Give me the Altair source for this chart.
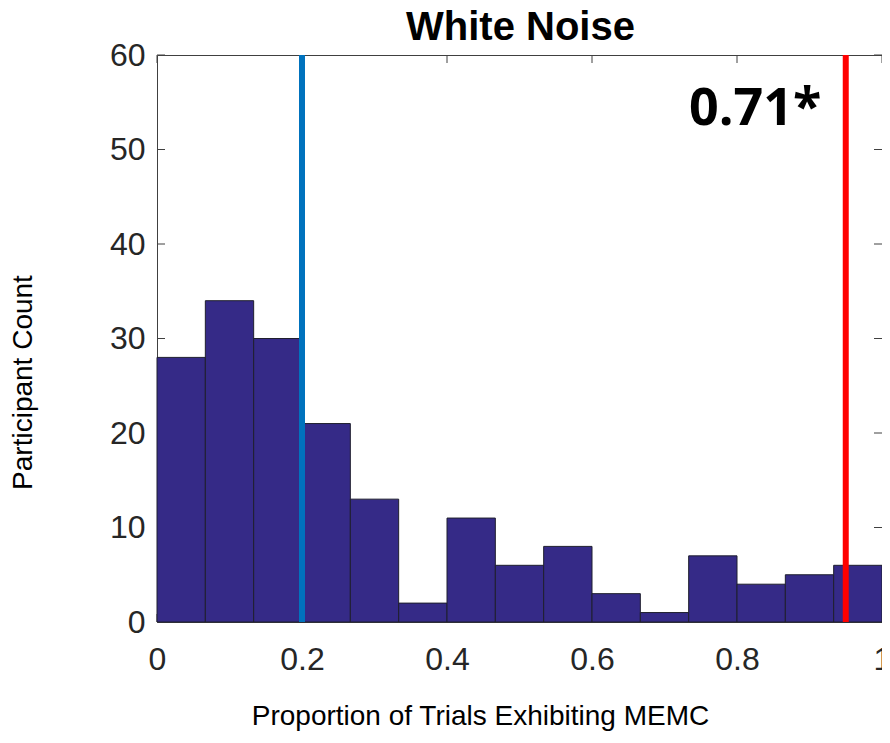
import altair as alt
import pandas as pd

# Histogram data (15 equal bins on [0, 1])
bin_starts = [i / 15 for i in range(15)]
bin_ends = [(i + 1) / 15 for i in range(15)]
counts = [28, 34, 30, 21, 13, 2, 11, 6, 8, 3, 1, 7, 4, 5, 6]

x_ticks = [0, 0.2, 0.4, 0.6, 0.8, 1.0]
y_ticks = [0, 10, 20, 30, 40, 50, 60]

chance_line = [0.2]
observed_line = [0.95]
annotation_text = ["0.71*"]
annotation_x = [0.825]
annotation_y = [52.6]
title_text = ["White Noise"]

W, H = 725, 567
FONT = "Liberation Sans"

bars_df = pd.DataFrame({"start": bin_starts, "end": bin_ends, "count": counts})
xt_df = pd.DataFrame({"v": x_ticks})
yt_df = pd.DataFrame({"v": y_ticks})

xscale = alt.Scale(domain=[0, 1], nice=False, zero=False)
yscale = alt.Scale(domain=[0, 60], nice=False)

x_axis = alt.Axis(
    values=x_ticks, format="~g", labelFont=FONT, labelFontSize=32, labelColor="#262626",
    ticks=False, domain=False, grid=False, labelPadding=22, labelBaseline="top",
    title="Proportion of Trials Exhibiting MEMC", titleFont=FONT, titleFontSize=28,
    titleFontWeight="normal", titleColor="black", titleX=323, titleY=102,
    titleBaseline="alphabetic", titleAlign="center", labelFlush=False,
)
y_axis = alt.Axis(
    values=y_ticks, labelFont=FONT, labelFontSize=32, labelColor="#262626",
    ticks=False, domain=False, grid=False, labelPadding=12,
    title="Participant Count", titleFont=FONT, titleFontSize=28,
    titleFontWeight="normal", titleColor="black", titleX=-134, titleY=327,
    titleAngle=-90, titleBaseline="middle", titleAlign="center",
)

bars = alt.Chart(bars_df).mark_bar(
    color="#352a87", stroke="#1f1f2e", strokeWidth=1
).encode(
    x=alt.X("start:Q", scale=xscale, axis=x_axis),
    x2="end:Q",
    y=alt.Y("count:Q", scale=yscale, axis=y_axis),
    y2=alt.datum(0),
)

tick_color = "#404040"
tick_len = 8
y_ticks_left = alt.Chart(yt_df).mark_rule(color=tick_color, strokeWidth=1).encode(
    y=alt.Y("v:Q", scale=yscale), x=alt.value(0), x2=alt.value(tick_len)
)
y_ticks_right = alt.Chart(yt_df).mark_rule(color=tick_color, strokeWidth=1).encode(
    y=alt.Y("v:Q", scale=yscale), x=alt.value(W - tick_len), x2=alt.value(W)
)
x_ticks_top = alt.Chart(xt_df).mark_rule(color=tick_color, strokeWidth=1).encode(
    x=alt.X("v:Q", scale=xscale), y=alt.value(0), y2=alt.value(tick_len)
)
x_ticks_bottom = alt.Chart(xt_df).mark_rule(color=tick_color, strokeWidth=1).encode(
    x=alt.X("v:Q", scale=xscale), y=alt.value(H - tick_len), y2=alt.value(H)
)

blue = alt.Chart(pd.DataFrame({"v": chance_line})).mark_rule(
    color="#0072BD", strokeWidth=6
).encode(x=alt.X("v:Q", scale=xscale))

red = alt.Chart(pd.DataFrame({"v": observed_line})).mark_rule(
    color="#FF0000", strokeWidth=6
).encode(x=alt.X("v:Q", scale=xscale))

label = alt.Chart(pd.DataFrame({"t": annotation_text, "x": annotation_x, "y": annotation_y})).mark_text(
    font="Open Sans", fontSize=52, fontWeight="bold", color="black",
    align="center", baseline="alphabetic"
).encode(
    x=alt.X("x:Q", scale=xscale), y=alt.Y("y:Q", scale=yscale), text="t:N"
)

title = alt.Chart(pd.DataFrame({"t": title_text})).mark_text(
    font=FONT, fontSize=40, fontWeight="bold", color="black",
    align="center", baseline="alphabetic"
).encode(
    x=alt.value(W / 2 + 1), y=alt.value(-15), text="t:N"
)

chart = alt.layer(
    y_ticks_left, y_ticks_right, x_ticks_top, x_ticks_bottom, bars, blue, red, label, title
).properties(
    width=W, height=H,
    background="white",
    autosize=alt.AutoSizeParams(type="none"),
    padding={"left": 149, "top": 47, "right": 0, "bottom": 112},
).configure_view(
    stroke="#404040", strokeWidth=1
)

chart.save("out.html", embed_options={"renderer": "svg", "actions": False})
